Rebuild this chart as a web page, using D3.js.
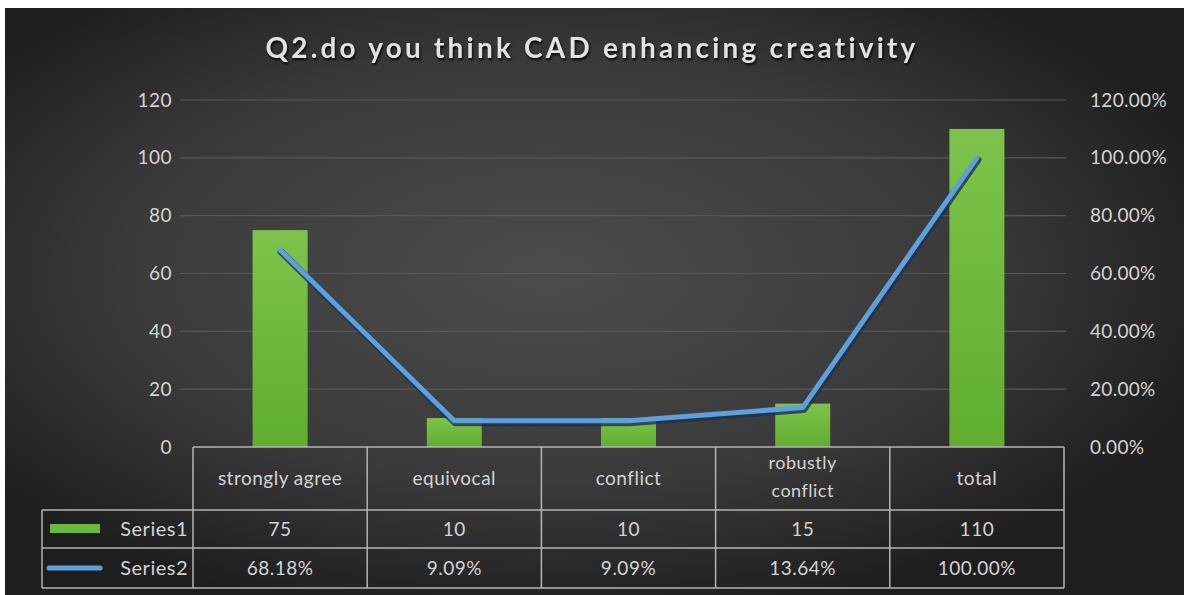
<!DOCTYPE html>
<html>
<head>
<meta charset="utf-8">
<script src="https://cdn.jsdelivr.net/npm/d3@7"></script>
<style>
  body { margin: 0; background: #fff; }
  svg { display: block; }
</style>
</head>
<body>
<svg id="chart"></svg>
<script>
// chart values
var categories = ['strongly agree', 'equivocal', 'conflict', 'robustly conflict', 'total'];
var series1 = [75, 10, 10, 15, 110];
var series2 = [0.6818, 0.0909, 0.0909, 0.1364, 1.0];
var leftTicks = [0, 20, 40, 60, 80, 100, 120];
var rightTicks = [0, 0.2, 0.4, 0.6, 0.8, 1.0, 1.2];
var seriesNames = ['Series1', 'Series2'];

var unit = {width: 1184, height: 595};
var svg = d3.select('#chart')
      .attr('width', unit.width)
      .attr('height', unit.height);

var defs = svg.append('defs');
var bg = defs.append('radialGradient').attr('id', 'bg')
      .attr('cx', '46%').attr('cy', '45%').attr('r', '60%');
bg.append('stop').attr('offset', '0%').attr('stop-color', '#4c4c4c');
bg.append('stop').attr('offset', '60%').attr('stop-color', '#3a3a3a');
bg.append('stop').attr('offset', '100%').attr('stop-color', '#1e1e1e');

var barGrad = defs.append('linearGradient').attr('id', 'barGrad')
      .attr('x1', 0).attr('y1', 0).attr('x2', 0).attr('y2', 1);
barGrad.append('stop').attr('offset', '0%').attr('stop-color', '#7dc34b');
barGrad.append('stop').attr('offset', '100%').attr('stop-color', '#5fae2e');

// background with white border top/left
svg.append('rect').attr('width', unit.width).attr('height', unit.height).attr('fill', '#fff');
svg.append('rect').attr('x', 5).attr('y', 8)
      .attr('width', unit.width - 5).attr('height', unit.height - 8)
      .attr('fill', 'url(#bg)');

var font = 'Lato, "Open Sans", sans-serif';
var textColor = '#d4d4d4';
var fs = 19;

// title
svg.append('text')
      .attr('x', 592).attr('y', 58)
      .attr('text-anchor', 'middle')
      .attr('font-family', font)
      .attr('font-weight', 'bold')
      .attr('font-size', 28)
      .attr('letter-spacing', 3.2)
      .attr('fill', '#e2e2e2')
      .style('filter', 'drop-shadow(1px 2px 1px rgba(0,0,0,0.85))')
      .text('Q2.do you think CAD enhancing creativity');

var plot = {left: 193, right: 1064, top: 100, bottom: 447};

var x = d3.scaleBand().domain(categories).range([plot.left, plot.right]);
var y = d3.scaleLinear().domain([0, 120]).range([plot.bottom, plot.top]);
var y2 = d3.scaleLinear().domain([0, 1.2]).range([plot.bottom, plot.top]);

// gridlines
svg.append('g').selectAll('line')
      .data(leftTicks.slice(1))
      .enter().append('line')
      .attr('x1', 180).attr('x2', 1066)
      .attr('y1', (d) => y(d)).attr('y2', (d) => y(d))
      .attr('stroke', '#585858').attr('stroke-width', 1.2);

// left axis
var leftAxis = svg.append('g')
      .attr('transform', 'translate(' + 172 + ',0)')
      .call(d3.axisLeft(y).tickValues(leftTicks).tickSize(0).tickPadding(0));
leftAxis.select('.domain').remove();
leftAxis.selectAll('text')
      .attr('font-family', font).attr('font-size', fs).attr('fill', textColor)
      .attr('letter-spacing', 0.5);

// right axis
var rightAxis = svg.append('g')
      .attr('transform', 'translate(' + 1090 + ',0)')
      .call(d3.axisRight(y2).tickValues(rightTicks).tickSize(0).tickPadding(0)
            .tickFormat((d) => (d * 100).toFixed(2) + '%'));
rightAxis.select('.domain').remove();
rightAxis.selectAll('text')
      .attr('font-family', font).attr('font-size', fs).attr('fill', textColor)
      .attr('letter-spacing', 0.3);

// bars
var barW = 55;
svg.append('g').selectAll('rect')
      .data(series1)
      .enter().append('rect')
      .attr('x', (d, i) => x(categories[i]) + x.bandwidth() / 2 - barW / 2)
      .attr('y', (d) => y(d))
      .attr('width', barW)
      .attr('height', (d) => plot.bottom - y(d))
      .attr('fill', 'url(#barGrad)');

// line
var line = d3.line()
      .x((d, i) => x(categories[i]) + x.bandwidth() / 2)
      .y((d) => y2(d));
svg.append('path')
      .datum(series2)
      .attr('d', line)
      .attr('transform', 'translate(1,2)')
      .attr('fill', 'none')
      .attr('stroke', '#1c324d')
      .attr('stroke-width', 7)
      .attr('stroke-linecap', 'round')
      .attr('stroke-linejoin', 'round')
      .attr('opacity', 0.8);
svg.append('path')
      .datum(series2)
      .attr('d', line)
      .attr('fill', 'none')
      .attr('stroke', '#5ea0dc')
      .attr('stroke-width', 5)
      .attr('stroke-linecap', 'round')
      .attr('stroke-linejoin', 'round');

// data table
var rows = {top: 447, head: 510, mid: 548, bottom: 588};
var tableLeft = 42;
var tbl = svg.append('g');
var lineColor = '#b5b5b5';

function hline(x1, x2, yy){
  tbl.append('line').attr('x1', x1).attr('x2', x2).attr('y1', yy).attr('y2', yy)
      .attr('stroke', lineColor).attr('stroke-width', 1.5);
}
function vline(xx, y1, y2v){
  tbl.append('line').attr('x1', xx).attr('x2', xx).attr('y1', y1).attr('y2', y2v)
      .attr('stroke', lineColor).attr('stroke-width', 1.5);
}
hline(plot.left, plot.right, rows.top);
hline(tableLeft, plot.right, rows.head);
hline(tableLeft, plot.right, rows.mid);
hline(tableLeft, plot.right, rows.bottom);
vline(tableLeft, rows.head, rows.bottom);
categories.forEach(function(c){ vline(x(c), rows.top, rows.bottom); });
vline(plot.right, rows.top, rows.bottom);

function cellText(xx, yy, anchor){
  return tbl.append('text')
        .attr('x', xx).attr('y', yy)
        .attr('text-anchor', anchor)
        .attr('font-family', font).attr('font-size', fs).attr('fill', textColor)
        .attr('letter-spacing', 0.5);
}

// category labels
categories.forEach(function(c){
  var words = c === 'robustly conflict' ? ['robustly', 'conflict'] : [c];
  var cx = x(c) + x.bandwidth() / 2;
  var t = cellText(cx, 485, 'middle');
  if (words.length === 1) {
    t.text(words[0]);
  } else {
    t.attr('font-size', fs - 1);
    t.append('tspan').attr('x', cx).attr('y', 469).text(words[0]);
    t.append('tspan').attr('x', cx).attr('y', 497).text(words[1]);
  }
});

// value rows
series1.forEach(function(v, i){
  cellText(x(categories[i]) + x.bandwidth() / 2, 536, 'middle').text(v);
});
series2.forEach(function(v, i){
  cellText(x(categories[i]) + x.bandwidth() / 2, 575, 'middle')
        .text((v * 100).toFixed(2) + '%');
});

// legend keys
tbl.append('rect').attr('x', 50).attr('y', 524).attr('width', 50).attr('height', 9)
      .attr('fill', '#6cb83a');
tbl.append('line').attr('x1', 49).attr('x2', 100).attr('y1', 568).attr('y2', 568)
      .attr('stroke', '#5ea0dc').attr('stroke-width', 5).attr('stroke-linecap', 'round');
seriesNames.forEach(function(s, i){
  cellText(188, i === 0 ? 536 : 575, 'end').attr('font-size', fs + 1).text(s);
});
</script>
</body>
</html>
